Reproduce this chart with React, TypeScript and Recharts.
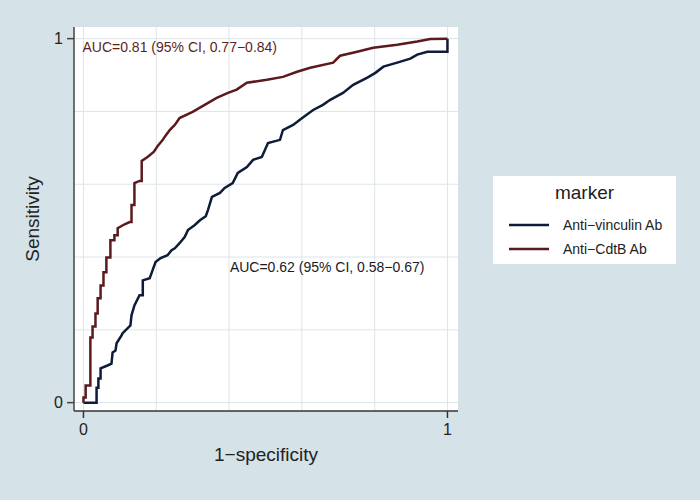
import React from 'react';
import { LineChart, Line, XAxis, YAxis, CartesianGrid, ReferenceDot } from 'recharts';

// ROC points (1-specificity, sensitivity)
const vinculinFpr = [
  0, 0.036, 0.036, 0.041, 0.041, 0.047, 0.047, 0.066, 0.077, 0.08, 0.088, 0.091, 0.105, 0.107,
  0.121, 0.129, 0.132, 0.14, 0.154, 0.163, 0.163, 0.182, 0.19, 0.198, 0.212, 0.231, 0.242, 0.251,
  0.264, 0.278, 0.287, 0.306, 0.32, 0.336, 0.342, 0.353, 0.375, 0.388, 0.41, 0.424, 0.449, 0.466,
  0.49, 0.507, 0.54, 0.548, 0.576, 0.601, 0.631, 0.658, 0.678, 0.713, 0.741, 0.78, 0.802, 0.824,
  0.862, 0.898, 0.917, 0.945, 1, 1
];
const vinculinTpr = [
  0, 0, 0.041, 0.041, 0.066, 0.066, 0.094, 0.102, 0.107, 0.138, 0.143, 0.163, 0.185, 0.19,
  0.204, 0.212, 0.24, 0.267, 0.295, 0.295, 0.336, 0.342, 0.364, 0.386, 0.397, 0.405, 0.419, 0.424,
  0.438, 0.455, 0.474, 0.488, 0.501, 0.512, 0.529, 0.565, 0.576, 0.59, 0.603, 0.631, 0.647, 0.667,
  0.675, 0.713, 0.722, 0.749, 0.763, 0.782, 0.804, 0.818, 0.832, 0.851, 0.873, 0.893, 0.906, 0.923,
  0.934, 0.945, 0.956, 0.964, 0.964, 1
];

const cdtbFpr = [
  0, 0, 0.006, 0.006, 0.019, 0.019, 0.025, 0.025, 0.033, 0.033, 0.039, 0.039, 0.047, 0.047, 0.055,
  0.055, 0.063, 0.063, 0.074, 0.074, 0.085, 0.085, 0.094, 0.094, 0.113, 0.127, 0.132, 0.132, 0.14,
  0.14, 0.154, 0.16, 0.16, 0.176, 0.193, 0.204, 0.218, 0.223, 0.237, 0.251, 0.264, 0.3, 0.333,
  0.366, 0.397, 0.421, 0.449, 0.504, 0.548, 0.587, 0.623, 0.686, 0.705, 0.752, 0.796, 0.862, 0.917,
  0.953, 1
];
const cdtbTpr = [
  0, 0.014, 0.014, 0.047, 0.047, 0.179, 0.179, 0.209, 0.209, 0.245, 0.245, 0.287, 0.287, 0.322, 0.322,
  0.358, 0.358, 0.399, 0.399, 0.446, 0.446, 0.46, 0.46, 0.479, 0.49, 0.496, 0.496, 0.543, 0.543,
  0.603, 0.609, 0.609, 0.664, 0.675, 0.689, 0.705, 0.722, 0.73, 0.749, 0.763, 0.782, 0.799, 0.818,
  0.837, 0.851, 0.86, 0.879, 0.887, 0.895, 0.909, 0.92, 0.934, 0.953, 0.964, 0.975, 0.983, 0.992,
  0.999, 1
];

const axisTicks = [0, 1];
const gridValues = [0, 0.2, 0.4, 0.6, 0.8, 1];
const seriesNames = ['Anti\u2212vinculin Ab', 'Anti\u2212CdtB Ab'];
const seriesColors = ['#0e1c38', '#5c1a1d'];
const aucTexts = ['AUC=0.62 (95% CI, 0.58\u22120.67)', 'AUC=0.81 (95% CI, 0.77\u22120.84)'];

const toPoints = (fpr: number[], tpr: number[]) => fpr.map((x, i) => ({ x, y: tpr[i] }));
const vinculinData = toPoints(vinculinFpr, vinculinTpr);
const cdtbData = toPoints(cdtbFpr, cdtbTpr);

const FONT = '"Liberation Sans", Arial, sans-serif';
const BG = '#d5e2e7';

const annotation = (text: string, color: string) => (props: any) => {
  const { viewBox } = props;
  return (
    <text x={viewBox.x} y={viewBox.y} fill={color} fontSize={14} fontFamily={FONT} dominantBaseline="central">
      {text}
    </text>
  );
};

export default function App() {
  return (
    <div style={{ position: 'fixed', left: 0, top: 0, width: 700, height: 500, background: BG, fontFamily: FONT }}>
      <LineChart width={700} height={500} margin={{ top: 27, right: 242, bottom: 0, left: 0 }}>
        <CartesianGrid
          fill="#ffffff"
          stroke="#dde4e7"
          horizontalValues={gridValues}
          verticalValues={gridValues}
        />
        <XAxis
          dataKey="x"
          type="number"
          domain={[-0.026, 1.029]}
          ticks={axisTicks}
          allowDuplicatedCategory={false}
          height={89}
          tickSize={7}
          tickMargin={6}
          stroke="#333"
          strokeWidth={1.5}
          tick={{ fill: '#222', fontSize: 16, fontFamily: FONT }}
          label={{ value: '1\u2212specificity', position: 'insideBottom', offset: 39, fill: '#222', fontSize: 19, fontFamily: FONT }}
        />
        <YAxis
          type="number"
          domain={[-0.023, 1.032]}
          ticks={axisTicks}
          width={74}
          tickSize={7}
          tickMargin={4}
          stroke="#444"
          strokeWidth={1.5}
          tick={{ fill: '#222', fontSize: 16, fontFamily: FONT }}
          label={{
            value: 'Sensitivity',
            angle: -90,
            position: 'insideLeft',
            offset: 32,
            fill: '#222',
            fontSize: 19,
            fontFamily: FONT,
            style: { textAnchor: 'middle' }
          }}
        />
        <Line
          data={vinculinData}
          dataKey="y"
          name={seriesNames[0]}
          type="linear"
          stroke={seriesColors[0]}
          strokeWidth={2.5}
          dot={false}
          isAnimationActive={false}
        />
        <Line
          data={cdtbData}
          dataKey="y"
          name={seriesNames[1]}
          type="linear"
          stroke={seriesColors[1]}
          strokeWidth={2.5}
          dot={false}
          isAnimationActive={false}
        />
        <ReferenceDot x={0} y={0.974} r={1} fill="none" stroke="none" label={annotation(aucTexts[1], '#5e1f22')} />
        <ReferenceDot x={0.405} y={0.37} r={1} fill="none" stroke="none" label={annotation(aucTexts[0], '#1a1a26')} />
      </LineChart>
      <div
        style={{
          position: 'absolute',
          left: 493,
          top: 176,
          width: 183,
          height: 88,
          background: '#ffffff',
          boxSizing: 'border-box'
        }}
      >
        <div style={{ textAlign: 'center', fontSize: 19, color: '#222', marginTop: 6, lineHeight: '22px' }}>marker</div>
        {seriesNames.map((name, i) => (
          <div key={name} style={{ position: 'absolute', left: 16, top: 40 + i * 24, height: 18, display: 'flex', alignItems: 'center' }}>
            <svg width={40} height={4} style={{ display: 'block' }}>
              <line x1={0} y1={2} x2={40} y2={2} stroke={seriesColors[i]} strokeWidth={2.5} />
            </svg>
            <span style={{ marginLeft: 14, fontSize: 14, color: '#222' }}>{name}</span>
          </div>
        ))}
      </div>
    </div>
  );
}
